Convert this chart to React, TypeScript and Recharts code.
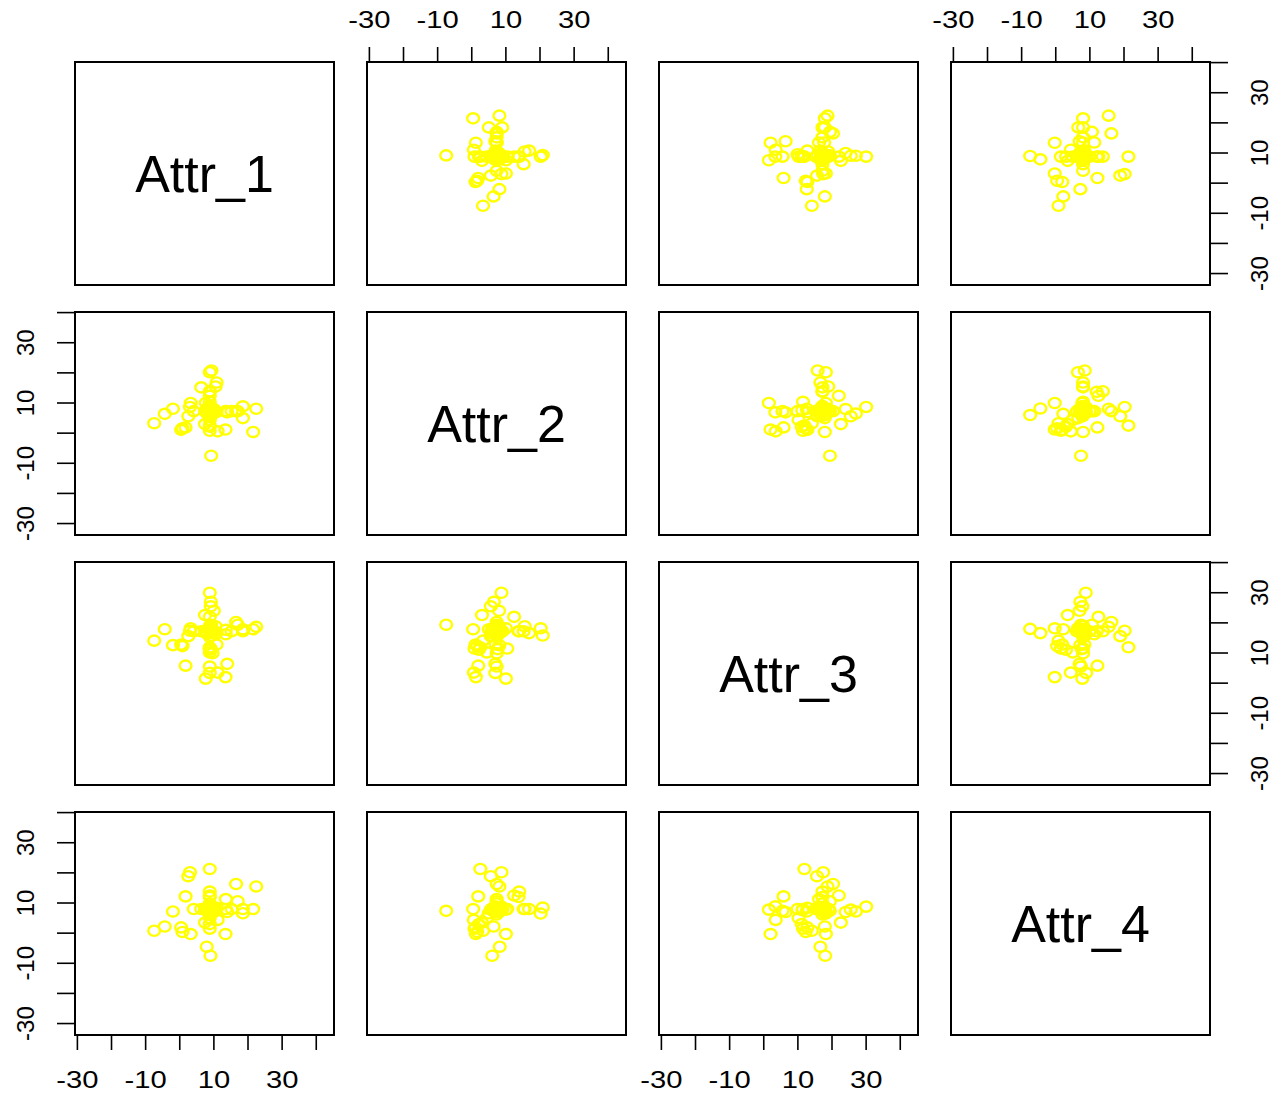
import { ScatterChart, Scatter, XAxis, YAxis, ReferenceArea } from 'recharts'

// four measured attributes, one entry per observation
const attrNames = ['Attr_1', 'Attr_2', 'Attr_3', 'Attr_4']

const attr1 = [
  -7.5, -4.4, -2.0, 0.4, 0.8, 1.7, 3.2, 3.0, 2.5, 4.1,
  22.4, 21.5, 18.5, 18.5, 17.0, 16.5, 15.2, 13.4, 13.5, 13.5,
  11.1, 7.6, 13.9, 8.8, 8.8, 7.9, 9.0, 8.8, 9.3, 9.2,
  8.8, 9.1, 9.1, 10.0, 8.8, 7.4, 10.5, 10.8, 8.8, 8.8,
  6.3, 10.8, 9.1, 9.6, 8.8, 8.8, 8.8, 8.8, 8.8, 8.8,
  8.8, 8.8, 7.5, 10.2, 8.8, 8.8, 8.8, 8.8, 8.8, 8.8,
  8.0, 9.5, 8.3, 9.4,
]
const attr2 = [
  3.3, 6.4, 8.1, 1.1, 1.6, 1.9, 10.0, 8.7, 5.6, 7.3,
  8.1, 0.4, 5.0, 8.9, 7.3, 7.3, 7.3, 1.2, 7.3, 7.3,
  0.6, 10.0, 6.9, 6.9, 2.5, 8.2, 6.0, 20.2, 20.8, -7.5,
  8.7, 6.5, 5.6, 8.0, 12.4, 3.0, 15.5, 16.8, 13.7, 13.9,
  15.2, 7.0, 7.6, 7.3, 0.8, 2.1, 4.4, 10.4, 7.3, 7.3,
  7.3, 7.3, 7.3, 7.3, 5.8, 9.0, 7.3, 7.3, 7.3, 7.3,
  6.5, 8.0, 7.9, 6.7,
]
const attr3 = [
  14.1, 17.9, 12.6, 12.8, 12.3, 5.8, 18.2, 17.4, 15.6, 17.2,
  18.7, 17.9, 17.9, 17.2, 19.4, 20.3, 17.2, 2.0, 16.2, 17.7,
  3.5, 1.5, 6.4, 3.4, 11.9, 16.6, 18.0, 18.2, 15.8, 19.4,
  30.0, 27.0, 25.5, 24.0, 22.0, 22.6, 18.9, 16.6, 17.2, 17.2,
  17.2, 12.8, 11.3, 9.9, 11.5, 11.1, 10.2, 11.5, 5.5, 17.2,
  17.2, 17.2, 17.2, 17.2, 17.2, 17.2, 15.3, 19.0, 17.2, 17.2,
  16.5, 18.0, 17.8, 16.7,
]
const attr4 = [
  0.8, 2.2, 7.2, 1.9, 0.4, 12.2, -0.3, 20.2, 18.9, 8.0,
  15.5, 8.0, 6.6, 8.0, 10.6, 16.3, 8.0, -0.3, 11.3, 8.0,
  4.4, 7.8, 7.0, 8.9, 21.3, -4.5, -7.5, 6.5, 8.5, 7.4,
  8.8, 7.2, 7.8, 7.0, 12.5, 3.5, 8.0, 8.0, 12.0, 13.8,
  8.0, 8.4, 7.6, 8.0, 1.5, 3.0, 5.0, 8.0, 7.4, 8.0,
  8.0, 8.0, 8.0, 8.0, 8.0, 8.0, 8.0, 8.0, 6.2, 9.9,
  7.5, 8.6, 7.3, 8.7,
]

const attrs = [attr1, attr2, attr3, attr4]

const axisTicks = [-30, -20, -10, 0, 10, 20, 30, 40]
const labelledTicks = [-30, -10, 10, 30]

// panel geometry
const W = 259
const H = 223
const M = 70
const XH = 40 // x axis band height
const YW = 40 // y axis band width
const colLeft = [75, 367, 659, 951]
const rowTop = [62, 312, 562, 812]
const xDomain: [number, number] = [-30.7, 45.2]
const yDomain: [number, number] = [-33.8, 40.2]
const FONT = '"Liberation Sans", Arial, sans-serif'

function Ring(props: any) {
  const { cx, cy } = props
  if (cx == null || cy == null) return null
  return <ellipse cx={cx} cy={cy} rx={5.9} ry={5.1} fill="none" stroke="#ffff00" strokeWidth={2.4} />
}

// x labels are drawn a little wide, like the rest of the horizontal text
function xTick(side: 'top' | 'bottom') {
  return (p: any) => {
    const v = p.payload.value
    if (!labelledTicks.includes(v)) return <g />
    const y = side === 'top' ? M - 42 : M + H + 45
    return (
      <g transform={`translate(${p.x}, ${y}) scale(1.27, 1)`}>
        <text x={0} y={0} textAnchor="middle" dominantBaseline="central" fontSize={23} fontFamily={FONT} fill="#000">
          {v}
        </text>
      </g>
    )
  }
}

function yTick(side: 'left' | 'right') {
  return (p: any) => {
    const v = p.payload.value
    if (!labelledTicks.includes(v)) return <g />
    const x = side === 'left' ? M - 49 : M + W + 50
    return (
      <text x={x} y={p.y} transform={`rotate(-90, ${x}, ${p.y})`} textAnchor="middle" dominantBaseline="central"
        fontSize={24} fontFamily={FONT} fill="#000">
        {v}
      </text>
    )
  }
}

function Panel({ row, col }: { row: number; col: number }) {
  const diag = row === col
  const data = diag ? [] : attrs[col].map((v, k) => ({ x: v, y: attrs[row][k] }))
  const xSide = row === 0 && col % 2 === 1 ? 'top' : row === 3 && col % 2 === 0 ? 'bottom' : null
  const ySide = col === 0 && row % 2 === 1 ? 'left' : col === 3 && row % 2 === 0 ? 'right' : null
  // the axis bands sit inside the outer margin so the plot box stays W x H at offset M
  const margin = {
    top: M - (xSide === 'top' ? XH : 0),
    bottom: M - (xSide === 'bottom' ? XH : 0),
    left: M - (ySide === 'left' ? YW : 0),
    right: M - (ySide === 'right' ? YW : 0),
  }
  return (
    <div style={{ position: 'absolute', left: colLeft[col] - M, top: rowTop[row] - M }}>
      <ScatterChart width={W + 2 * M} height={H + 2 * M} margin={margin}>
        <XAxis type="number" dataKey="x" domain={xDomain} allowDataOverflow ticks={axisTicks} interval={0}
          hide={!xSide} orientation={xSide ?? 'bottom'} height={XH} axisLine={false} tickSize={15}
          tickLine={{ stroke: '#000', strokeWidth: 1.6 }} tick={xTick(xSide ?? 'bottom')} />
        <YAxis type="number" dataKey="y" domain={yDomain} allowDataOverflow ticks={axisTicks} interval={0}
          hide={!ySide} orientation={ySide ?? 'left'} width={YW} axisLine={false} tickSize={18}
          tickLine={{ stroke: '#000', strokeWidth: 1.6 }} tick={yTick(ySide ?? 'left')} />
        <ReferenceArea x1={xDomain[0]} x2={xDomain[1]} y1={yDomain[0]} y2={yDomain[1]}
          fill="none" fillOpacity={0} stroke="#000" strokeWidth={2} strokeOpacity={1} ifOverflow="visible"
          label={diag ? { value: attrNames[row], position: 'center', fontSize: 52, fill: '#000', fontFamily: FONT } : undefined} />
        {!diag && <Scatter data={data} isAnimationActive={false} shape={Ring} />}
      </ScatterChart>
    </div>
  )
}

export default function App() {
  const cells = []
  for (let r = 0; r < 4; r++) for (let c = 0; c < 4; c++) cells.push(<Panel key={`${r}-${c}`} row={r} col={c} />)
  return (
    <div style={{ position: 'absolute', left: 0, top: 0, width: 1281, height: 1097, background: '#fff' }}>
      {cells}
    </div>
  )
}
